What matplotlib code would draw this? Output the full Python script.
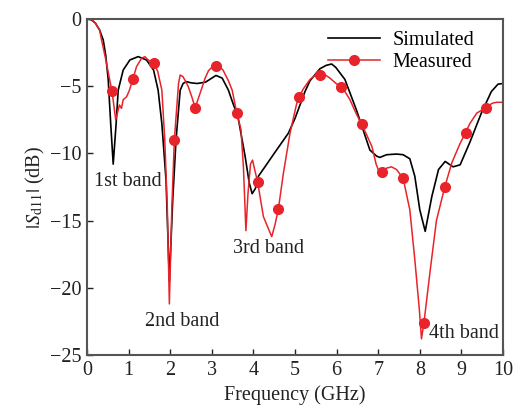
import matplotlib
matplotlib.use("Agg")
import matplotlib.pyplot as plt

plt.rcParams.update({
    'font.family': 'Liberation Serif',
    'mathtext.fontset': 'stix',
    'font.size': 14.5,
})

# simulated |Sd11| (dB) vs frequency (GHz)
sim_f = [0.0, 0.1, 0.2, 0.3, 0.39, 0.45, 0.51, 0.57, 0.63, 0.7, 0.75, 0.87, 1.03,
         1.23, 1.43, 1.6, 1.71, 1.8, 1.9, 1.98, 2.06, 2.14, 2.24, 2.31, 2.39, 2.5,
         2.65, 2.85, 2.95, 3.1, 3.25, 3.4, 3.5, 3.63, 3.8, 3.9, 3.97, 4.05, 4.12,
         4.3, 4.5, 4.84, 5.0, 5.12, 5.24, 5.36, 5.6, 5.75, 5.88, 5.92, 5.98, 6.2,
         6.48, 6.8, 6.96, 7.04, 7.2, 7.44, 7.6, 7.76, 7.88, 8.0, 8.13, 8.29, 8.45,
         8.61, 8.8, 8.97, 9.2, 9.48, 9.72, 9.88, 10.0]
sim_db = [0.0, -0.05, -0.3, -0.8, -1.56, -2.7, -4.5, -7.8, -10.8, -7.8, -5.3, -3.8, -3.05,
          -2.8, -3.05, -3.8, -5.3, -7.8, -12.0, -19.5, -13.5, -9.0, -5.3, -4.8, -4.66, -4.75,
          -4.8, -4.7, -4.5, -4.2, -4.4, -5.3, -6.2, -7.3, -10.2, -12.2, -13.0, -12.6, -11.7,
          -10.9, -10.0, -8.5, -7.4, -6.4, -5.4, -4.6, -3.7, -3.45, -3.35, -3.45, -3.6, -4.5,
          -6.8, -9.75, -10.2, -10.3, -10.1, -10.05, -10.1, -10.4, -11.7, -14.2, -15.8, -13.2, -11.2,
          -10.6, -11.0, -10.85, -9.2, -7.0, -5.4, -4.85, -4.8]

# measured |Sd11| (dB) vs frequency (GHz)
meas_f = [0.0, 0.1, 0.2, 0.3, 0.35, 0.45, 0.55, 0.6, 0.69, 0.78, 0.83, 0.87, 0.95,
          1.02, 1.1, 1.19, 1.31, 1.39, 1.47, 1.6, 1.7, 1.8, 1.87, 1.93, 1.98, 2.04,
          2.1, 2.2, 2.24, 2.31, 2.43, 2.52, 2.6, 2.7, 2.84, 2.92, 3.0, 3.1, 3.2,
          3.27, 3.4, 3.49, 3.6, 3.7, 3.76, 3.82, 3.87, 3.93, 3.98, 4.03, 4.1, 4.24,
          4.32, 4.44, 4.52, 4.6, 4.72, 4.88, 5.04, 5.1, 5.2, 5.36, 5.48, 5.6, 5.7,
          5.84, 5.95, 6.1, 6.2, 6.32, 6.45, 6.6, 6.72, 6.85, 6.95, 7.0, 7.1, 7.2,
          7.32, 7.44, 7.6, 7.76, 7.88, 7.99, 8.04, 8.1, 8.25, 8.4, 8.6, 8.77, 8.97,
          9.1, 9.2, 9.37, 9.48, 9.6, 9.7, 9.76, 9.85, 10.0]
meas_db = [0.0, 0.0, -0.3, -0.8, -1.56, -3.0, -4.6, -5.33, -7.5, -6.4, -6.65, -6.0, -5.8,
           -5.3, -4.5, -3.55, -2.93, -2.8, -3.05, -3.25, -3.9, -5.3, -9.0, -14.0, -21.2, -14.0,
           -9.0, -4.8, -4.17, -4.3, -5.0, -5.8, -6.6, -5.7, -4.4, -3.85, -3.6, -3.5, -3.6,
           -3.8, -4.6, -5.3, -7.0, -8.2, -11.0, -15.75, -13.0, -10.8, -10.5, -11.2, -12.1, -14.7,
           -15.3, -16.2, -15.3, -14.15, -11.5, -8.5, -6.3, -5.8, -5.2, -4.5, -4.2, -4.17, -4.1,
           -4.4, -4.7, -5.08, -5.4, -6.0, -6.9, -7.84, -8.6, -9.5, -10.8, -11.2, -11.36, -11.1,
           -11.0, -11.2, -11.86, -14.2, -17.9, -21.65, -23.8, -22.6, -18.7, -15.0, -12.5, -10.7, -9.25,
           -8.46, -7.8, -7.0, -6.8, -6.65, -6.35, -6.25, -6.2, -6.2]

# frequencies carrying a marker
mark_f = [0.6, 1.1, 1.6, 2.1, 2.6, 3.1, 3.6, 4.1, 4.6, 5.1, 5.6, 6.1, 6.6, 7.1,
          7.6, 8.1, 8.6, 9.1, 9.6]

band_labels = ['1st band', '2nd band', '3rd band', '4th band']
band_pos = [(0.98, -12.1), (2.28, -22.5), (4.37, -17.1), (9.06, -23.4)]

fig = plt.figure(figsize=(5.16, 4.20), dpi=100)
ax = fig.add_axes([0.1686, 0.1548, 0.8062, 0.80])

ax.plot(sim_f, sim_db, color='black', lw=1.2, label='Simulated')
ax.plot(meas_f, meas_db, color='#e8232a', lw=1.1, marker='o', ms=7,
        markevery=[meas_f.index(f) for f in mark_f], label='Measured')

for txt, (x, y) in zip(band_labels, band_pos):
    ax.text(x, y, txt, ha='center', va='center', fontsize=14.5, color='#222222')

ax.set_xlim(0, 10)
ax.set_ylim(-25, 0)
ax.set_xticks(range(0, 11))
ax.set_yticks(range(-25, 1, 5))
ax.tick_params(direction='in', length=4, width=1, colors='#222222',
               top=False, right=False, labelsize=14.5, pad=4)
for s in ax.spines.values():
    s.set_color('#555555')
    s.set_linewidth(1.5)

ax.set_xlabel('Frequency (GHz)', fontsize=14.5, color='#222222', labelpad=4)
ax.set_ylabel(r'$|S_{\mathrm{d11}}|$ (dB)', fontsize=14.5, color='#222222', labelpad=2)

ax.legend(loc='upper right', frameon=False, fontsize=14.5, handlelength=2.6,
          borderaxespad=0.2, labelspacing=0.15, handletextpad=0.6,
          bbox_to_anchor=(0.96, 1.0))

fig.savefig('out.png', dpi=100)
